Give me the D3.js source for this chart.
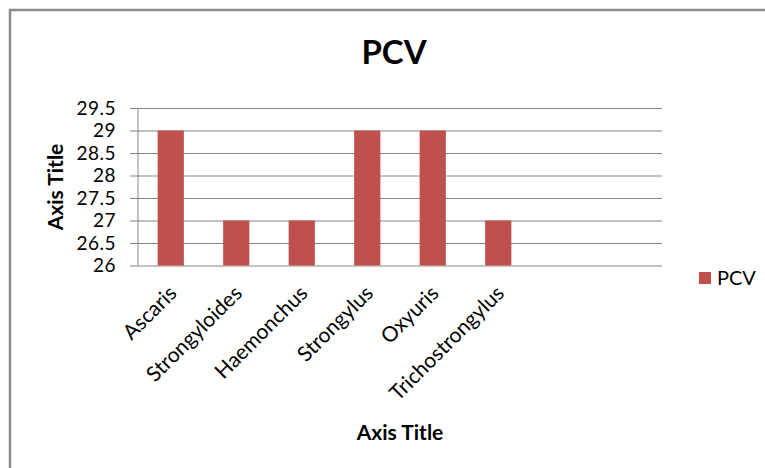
<!DOCTYPE html>
<html lang="en">
<head>
  <meta charset="UTF-8">
  <title>PCV</title>
  <script src="https://d3js.org/d3.v7.min.js"></script>
  <style>
    body { margin: 0; background: #fff; font-family: Lato, "Open Sans", sans-serif; }
    svg { display: block; }
  </style>
</head>
<body>
  <div id="chart"></div>

  <script>
    // data
    const categories = ["Ascaris", "Strongyloides", "Haemonchus", "Strongylus", "Oxyuris", "Trichostrongylus"];
    const pcvValues = [29, 27, 27, 29, 29, 27];
    const yTicks = [26, 26.5, 27, 27.5, 28, 28.5, 29, 29.5];
    const slotCount = 8; // the category axis has two empty slots at the end
    const seriesName = "PCV";

    const W = 765, H = 468;
    const plot = {left: 138, right: 662, top: 108, bottom: 265.5};

    const svg = d3.select("#chart").append("svg")
      .attr("width", W)
      .attr("height", H);

    // chart frame (right and bottom edges fall outside the picture)
    svg.append("rect")
      .attr("x", 10).attr("y", 10)
      .attr("width", W + 20).attr("height", H + 20)
      .attr("fill", "#fff")
      .attr("stroke", "#8c8c8c")
      .attr("stroke-width", 2.5);

    const x = d3.scaleBand()
      .domain(d3.range(slotCount))
      .range([plot.left, plot.right])
      .paddingInner(0.6)
      .paddingOuter(0.3);

    const y = d3.scaleLinear()
      .domain([26, 29.5])
      .range([plot.bottom, plot.top]);

    // gridlines + y labels
    const yAxis = svg.append("g")
      .attr("transform", `translate(${plot.left},0)`)
      .call(d3.axisLeft(y).tickValues(yTicks).tickSize(-(plot.right - plot.left)).tickPadding(22).tickFormat(d3.format("")));
    yAxis.select(".domain").remove();
    yAxis.selectAll(".tick line").attr("stroke", "#868686").attr("x1", -8);
    yAxis.selectAll(".tick text")
      .attr("fill", "#000")
      .style("font-size", "19px")
      .style("letter-spacing", "0.5px")
      .style("font-family", "Lato, sans-serif");

    // axis line
    svg.append("line")
      .attr("x1", plot.left).attr("x2", plot.left)
      .attr("y1", plot.top).attr("y2", plot.bottom)
      .attr("stroke", "#868686");

    // bars
    const data = categories.map((c, i) => ({i, name: c, value: pcvValues[i]}));
    svg.selectAll(".bar")
      .data(data)
      .enter().append("rect")
      .attr("class", "bar")
      .attr("x", d => x(d.i))
      .attr("y", d => y(d.value))
      .attr("width", x.bandwidth())
      .attr("height", d => y(26) - y(d.value))
      .attr("fill", "#c0504d");

    // category labels, rotated
    svg.selectAll(".cat")
      .data(data)
      .enter().append("text")
      .attr("class", "cat")
      .attr("text-anchor", "end")
      .attr("transform", d => `translate(${x(d.i) + x.bandwidth() / 2 - 4},${plot.bottom + 18}) rotate(-45)`)
      .attr("dy", "0.75em")
      .style("font-size", "21px")
      .text(d => d.name);

    // axis titles
    svg.append("text")
      .attr("x", 400).attr("y", 440)
      .attr("text-anchor", "middle")
      .style("font-size", "21px").style("font-weight", "bold")
      .text("Axis Title");

    svg.append("text")
      .attr("transform", "translate(63,187) rotate(-90)")
      .attr("text-anchor", "middle")
      .style("font-size", "21px").style("font-weight", "bold")
      .text("Axis Title");

    // chart title
    svg.append("text")
      .attr("x", 394).attr("y", 64)
      .attr("text-anchor", "middle")
      .style("font-size", "33px").style("font-weight", "bold")
      .text(seriesName);

    // legend
    const legend = svg.append("g").attr("transform", "translate(699,272)");
    legend.append("rect").attr("width", 12).attr("height", 12).attr("fill", "#c0504d");
    legend.append("text")
      .attr("x", 18).attr("y", 13)
      .style("font-size", "20px")
      .text(seriesName);
  </script>
</body>
</html>
